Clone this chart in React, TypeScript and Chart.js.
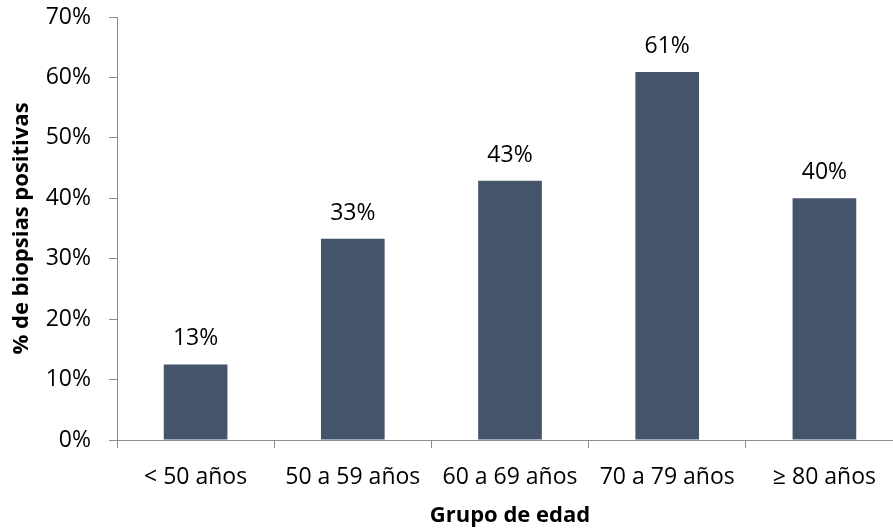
import React, { useEffect, useRef } from "react";
import { Chart, registerables } from "chart.js";

Chart.register(...registerables);

const categories = ["< 50 años", "50 a 59 años", "60 a 69 años", "70 a 79 años", "≥ 80 años"];
const positivePct = [12.5, 33.3, 42.9, 60.9, 40.0];
const yTicksMax = 70;
const yTicksStep = 10;
const xTitle = "Grupo de edad";
const yTitle = "% de biopsias positivas";

const FONT = "'Open Sans', sans-serif";
const AXIS_COLOR = "#8c8c8c";
const BAR_COLOR = "#44546A";

const dataLabelPlugin = {
  id: "dataLabels",
  afterDatasetsDraw(chart: any) {
    const ctx = chart.ctx;
    ctx.save();
    ctx.font = `23px ${FONT}`;
    ctx.fillStyle = "#000";
    ctx.textAlign = "center";
    ctx.textBaseline = "alphabetic";
    chart.data.datasets.forEach((ds: any, di: number) => {
      const meta = chart.getDatasetMeta(di);
      meta.data.forEach((bar: any, i: number) => {
        const v = ds.data[i];
        ctx.fillText(`${Math.round(v)}%`, bar.x, bar.y - 19);
      });
    });
    ctx.restore();
  },
};

export default function App() {
  const ref = useRef<HTMLCanvasElement>(null);
  useEffect(() => {
    if (!ref.current) return;
    const chart = new Chart(ref.current, {
      type: "bar",
      data: {
        labels: categories,
        datasets: [
          {
            data: positivePct,
            backgroundColor: BAR_COLOR,
            borderWidth: 0,
            barPercentage: 0.405,
            categoryPercentage: 1,
          },
        ],
      },
      options: {
        responsive: false,
        animation: false,
        layout: { padding: { top: 17, right: 0, left: 0, bottom: 0 } },
        plugins: { legend: { display: false }, tooltip: { enabled: false } },
        scales: {
          x: {
            grid: { display: true, drawOnChartArea: false, drawTicks: true, tickLength: 8, color: AXIS_COLOR, offset: true },
            border: { display: true, color: AXIS_COLOR, width: 1 },
            ticks: { color: "#000", font: { family: FONT, size: 23 }, padding: 16, maxRotation: 0, autoSkip: false },
            title: { display: true, text: xTitle, color: "#000", font: { family: FONT, size: 22, weight: "bold" }, padding: { top: 0, bottom: 2 } },
            afterFit(scale: any) { scale.height = 91; scale.paddingLeft = 0; scale.paddingRight = 0; },
          },
          y: {
            min: 0,
            max: yTicksMax,
            grid: { display: true, drawOnChartArea: false, drawTicks: true, tickLength: 8, color: AXIS_COLOR },
            border: { display: true, color: AXIS_COLOR, width: 1 },
            ticks: { stepSize: yTicksStep, color: "#000", font: { family: FONT, size: 23 }, padding: 18, callback: (v: any) => `${v}%` },
            title: { display: true, text: yTitle, color: "#000", font: { family: FONT, size: 22, weight: "bold" }, padding: { top: 9, bottom: 0 } },
            afterFit(scale: any) { scale.width = 117; scale.paddingTop = 0; scale.paddingBottom = 0; },
          },
        },
      },
      plugins: [dataLabelPlugin],
    });
    return () => chart.destroy();
  }, []);
  return (
    <div style={{ position: "fixed", left: 0, top: 0, width: 893, height: 531, background: "#fff", overflow: "hidden" }}>
      <canvas ref={ref} width={903} height={531} style={{ display: "block" }} />
    </div>
  );
}
